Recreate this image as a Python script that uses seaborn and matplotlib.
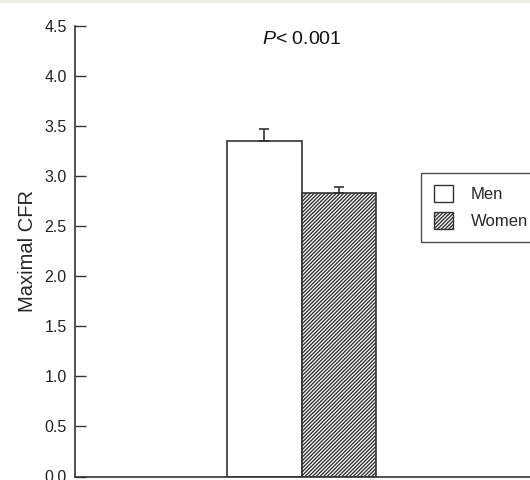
import matplotlib
matplotlib.use("Agg")
import matplotlib.pyplot as plt
import seaborn as sns
import pandas as pd
from matplotlib.patches import Patch, Rectangle

# data
groups = ["Men", "Women"]
cfr_mean = [3.35, 2.83]
cfr_sem = [0.12, 0.06]
p_text = "$\\it{P}$< 0.001"

sns.set_style("white")
plt.rcParams["font.family"] = ["Liberation Sans", "DejaVu Sans"]
plt.rcParams["hatch.linewidth"] = 1.0
plt.rcParams["mathtext.fontset"] = "custom"
plt.rcParams["mathtext.it"] = "Liberation Sans:italic"

df = pd.DataFrame({"cond": ["all", "all"], "group": groups, "cfr": cfr_mean})

fig = plt.figure(figsize=(5.3, 4.8), dpi=100)
ax = fig.add_axes([75 / 530, 3.5 / 480, 455 / 530, 450.5 / 480])

edge = "#333333"
sns.barplot(data=df, x="cond", y="cfr", hue="group", hue_order=groups,
            palette={"Men": "white", "Women": "white"}, edgecolor=edge,
            linewidth=1.2, errorbar=None, legend=False, ax=ax)

# hatch the women bar
for bar in ax.containers[1]:
    bar.set_hatch("/////////")

# upward-only error bars at the bar centres
for cont, m, e in zip(ax.containers, cfr_mean, cfr_sem):
    bar = cont[0]
    xc = bar.get_x() + bar.get_width() / 2
    ax.errorbar(xc, m, yerr=[[0], [e]], fmt="none", ecolor=edge,
                elinewidth=1.2, capsize=3.6, capthick=1.2)

ax.set_xlim(-1.21, 1.22)
ax.set_ylim(0, 4.5)
ax.set_yticks([0, 0.5, 1.0, 1.5, 2.0, 2.5, 3.0, 3.5, 4.0, 4.5])
ax.set_yticklabels([f"{t:.1f}" for t in ax.get_yticks()])
ax.set_xticks([])
ax.set_xlabel("")
ax.set_ylabel("Maximal CFR", fontsize=14.5, labelpad=5)

for s in ["top", "right"]:
    ax.spines[s].set_visible(False)
for s in ["left", "bottom"]:
    ax.spines[s].set_color(edge)
    ax.spines[s].set_linewidth(1.2)
ax.tick_params(axis="y", direction="in", length=8, width=1, color=edge,
               labelsize=11.5, labelcolor="#222222", pad=6, left=True)

ax.text(0.0, 4.37, p_text, ha="center", va="center", fontsize=14, color="#111111")

handles = [Patch(facecolor="white", edgecolor=edge, linewidth=1),
           Patch(facecolor="white", edgecolor=edge, linewidth=1, hatch="/////////")]
leg = fig.legend(handles, groups, loc="upper left",
                 bbox_to_anchor=(421 / 530, 1 - 173 / 480), fontsize=12,
                 frameon=True, fancybox=False, edgecolor="#222222",
                 borderaxespad=0, handlelength=1.15, handleheight=1.15,
                 borderpad=0.75, labelspacing=0.6, handletextpad=1.1)
leg.get_frame().set_linewidth(1.0)

# thin tinted strip along the top edge
fig.patches.append(Rectangle((0, 1 - 3 / 480), 1, 3 / 480, transform=fig.transFigure,
                             facecolor="#eceee4", edgecolor="none", zorder=0))

fig.savefig("out.png", dpi=100)
